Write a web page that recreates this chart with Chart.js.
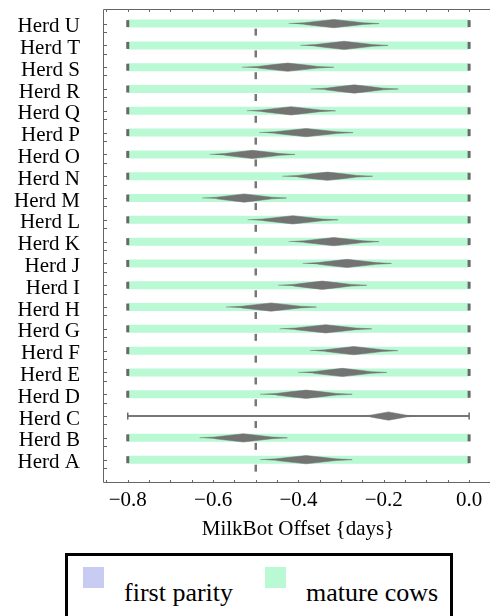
<!DOCTYPE html>
<html>
<head>
<meta charset="utf-8">
<script src="https://cdn.jsdelivr.net/npm/chart.js@4.4.1/dist/chart.umd.min.js"></script>
<style>
  body { margin: 0; background: #fff; overflow: hidden; }
  #wrap { position: relative; width: 490px; height: 616px; overflow: hidden; }
  #chart { position: absolute; left: 0; top: 0; }
  #legend {
    position: absolute; left: 65px; top: 553px; width: 382px; height: 90px;
    border: 3px solid #000; font-family: 'Liberation Serif', serif; font-size: 26px; color: #000;
  }
  .item { position: absolute; top: 0; }
  .swatch { position: absolute; top: 11px; left: 0; width: 21px; height: 21px; }
  .label { position: absolute; top: 24px; white-space: nowrap; line-height: 26px; }
</style>
</head>
<body>
<div id="wrap">
  <canvas id="chart" width="500" height="550"></canvas>
  <div id="legend"></div>
</div>
<script>
// herds listed bottom to top (A at the bottom of the plot)
const herds = ['Herd A', 'Herd B', 'Herd C', 'Herd D', 'Herd E', 'Herd F', 'Herd G',
  'Herd H', 'Herd I', 'Herd J', 'Herd K', 'Herd L', 'Herd M', 'Herd N',
  'Herd O', 'Herd P', 'Herd Q', 'Herd R', 'Herd S', 'Herd T', 'Herd U'];
const offsetMean = [-0.382, -0.529, -0.189, -0.382, -0.297, -0.270, -0.336,
  -0.464, -0.344, -0.286, -0.317, -0.413, -0.527, -0.332,
  -0.508, -0.382, -0.417, -0.269, -0.425, -0.293, -0.317];
const offsetSpread = [0.108, 0.103, 0.066, 0.108, 0.104, 0.103, 0.108,
  0.106, 0.104, 0.104, 0.106, 0.106, 0.099, 0.106,
  0.100, 0.110, 0.104, 0.103, 0.108, 0.103, 0.106];
const rangeLow = -0.8;
const rangeHigh = 0.0;
const lineOnlyHerds = ['Herd C'];
const overallOffset = -0.5;
const xTickValues = [-0.8, -0.6, -0.4, -0.2, 0.0];
const seriesNames = ['first parity', 'mature cows'];
const seriesColors = ['#c9ccf2', '#b9f9d3'];

const FONT = 'Liberation Serif';
const TEXT = '#000';
const spindleColor = '#737373';
const capColor = '#686868';
// relative outline of the spindle marks: [position along spread, relative thickness]
const spindle = [[-1, 0], [-0.65, 0.2], [-0.35, 0.58], [0, 1], [0.35, 0.58], [0.65, 0.2], [1, 0]];
const spindleHalf = 0.19;

const datasets = [];

herds.forEach((h, i) => {
  const c = offsetMean[i], w = offsetSpread[i];
  const top = spindle.map(([u, t]) => ({ x: c + u * w, y: i + t * spindleHalf }));
  const bottom = spindle.slice(1, -1).reverse().map(([u, t]) => ({ x: c + u * w, y: i - t * spindleHalf }));
  datasets.push({
    data: top.concat(bottom),
    order: 0,
    borderColor: spindleColor,
    backgroundColor: spindleColor,
    borderWidth: 0.5,
    pointRadius: 0,
    fill: 'shape',
    tension: 0
  });
});

// dashed reference line, one dash under each row
datasets.push({
  data: herds.map((h, i) => ({ x: overallOffset, y: i - 0.39 })),
  order: 1,
  showLine: false,
  pointStyle: 'line',
  rotation: 90,
  pointRadius: 3.5,
  pointBorderWidth: 2.5,
  pointBorderColor: '#777'
});

herds.forEach((h, i) => {
  const thin = lineOnlyHerds.includes(h);
  datasets.push({
    data: [{ x: rangeLow, y: i }, { x: rangeHigh, y: i }],
    order: 2,
    borderColor: thin ? '#777' : seriesColors[1],
    borderWidth: thin ? 2 : 8,
    borderCapStyle: 'butt',
    pointStyle: 'line',
    rotation: 90,
    pointRadius: 3.5,
    pointBorderWidth: thin ? 1.5 : 3,
    pointBorderColor: capColor,
    fill: false
  });
});

const frameTicks = {
  id: 'frameTicks',
  afterDraw(chart) {
    const { ctx, chartArea: a, scales: { x, y } } = chart;
    ctx.save();
    ctx.strokeStyle = '#666';
    ctx.lineWidth = 1;
    ctx.beginPath();
    ctx.moveTo(a.right, a.top + 0.5);
    ctx.lineTo(a.left + 0.5, a.top + 0.5);
    ctx.lineTo(a.left + 0.5, a.bottom - 0.5);
    ctx.lineTo(a.right, a.bottom - 0.5);
    for (let k = -17; k <= 1; k++) {
      const px = Math.round(x.getPixelForValue(k * 0.05)) + 0.5;
      ctx.moveTo(px, a.bottom); ctx.lineTo(px, a.bottom - 3);
      ctx.moveTo(px, a.top); ctx.lineTo(px, a.top + 3);
    }
    herds.forEach((h, i) => {
      [i, i - 0.38].forEach(v => {
        const py = Math.round(y.getPixelForValue(v)) + 0.5;
        ctx.moveTo(a.left, py); ctx.lineTo(a.left + 4, py);
      });
    });
    ctx.stroke();
    ctx.restore();
  }
};

new Chart(document.getElementById('chart'), {
  type: 'line',
  data: { datasets },
  plugins: [frameTicks],
  options: {
    responsive: false,
    animation: false,
    devicePixelRatio: 1,
    events: [],
    layout: { padding: { top: 9, right: 3, left: 0, bottom: 0 } },
    plugins: { legend: { display: false }, tooltip: { enabled: false } },
    scales: {
      x: {
        type: 'linear',
        min: -0.858,
        max: 0.056,
        afterBuildTicks: s => { s.ticks = xTickValues.map(v => ({ value: v })); },
        afterFit: s => { s.height = 67; s.paddingLeft = 0; s.paddingRight = 0; },
        grid: { display: false, drawTicks: false },
        border: { display: false },
        ticks: {
          padding: 5,
          autoSkip: false,
          maxRotation: 0,
          color: TEXT,
          font: { family: FONT, size: 21 },
          callback: v => (v < 0 ? '\u2212' : '') + Math.abs(v).toFixed(1)
        },
        title: {
          display: true,
          text: 'MilkBot Offset {days}',
          color: TEXT,
          font: { family: FONT, size: 21 },
          padding: { top: 0, bottom: 8 }
        }
      },
      y: {
        type: 'linear',
        min: -1.07,
        max: 20.67,
        afterBuildTicks: s => { s.ticks = herds.map((h, i) => ({ value: i })); },
        afterFit: s => { s.width = 103; s.paddingTop = 0; s.paddingBottom = 0; },
        grid: { display: false, drawTicks: false },
        border: { display: false },
        ticks: {
          padding: 23,
          autoSkip: false,
          labelOffset: 3,
          color: TEXT,
          font: { family: FONT, size: 21, lineHeight: 1 },
          callback: v => herds[v]
        }
      }
    }
  }
});

// legend box
const legend = document.getElementById('legend');
const itemLeft = [15, 197];
const labelLeft = [41, 41];
seriesNames.forEach((name, k) => {
  const item = document.createElement('div');
  item.className = 'item';
  item.style.left = itemLeft[k] + 'px';
  const sw = document.createElement('div');
  sw.className = 'swatch';
  sw.style.background = seriesColors[k];
  const lab = document.createElement('div');
  lab.className = 'label';
  lab.style.left = labelLeft[k] + 'px';
  lab.textContent = name;
  item.appendChild(sw);
  item.appendChild(lab);
  legend.appendChild(item);
});
</script>
</body>
</html>
